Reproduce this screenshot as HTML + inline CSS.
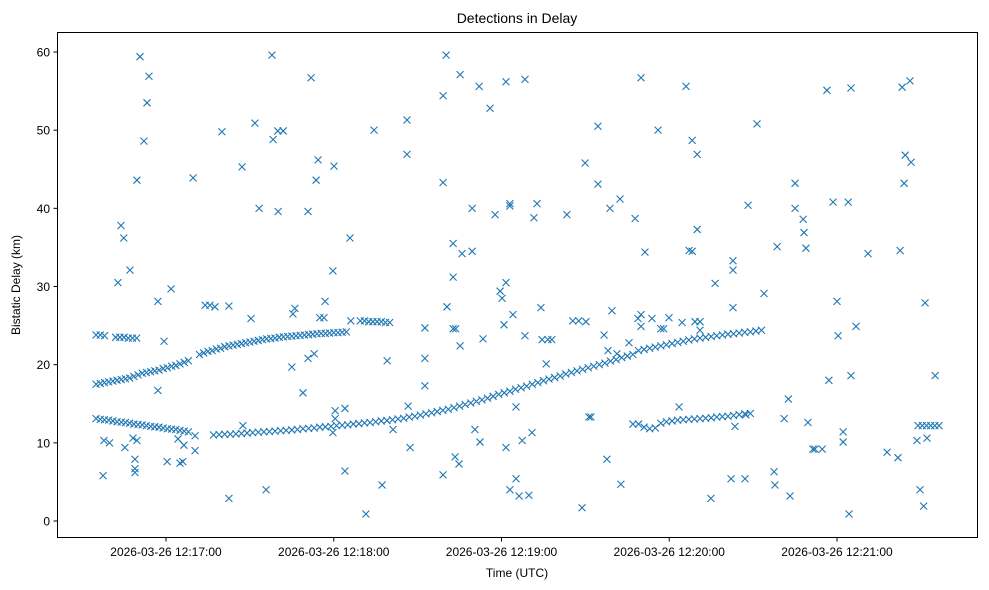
<!DOCTYPE html>
<html><head><meta charset="utf-8"><style>
body{margin:0;background:#fff;}
svg{display:block;font-family:"Liberation Sans","DejaVu Sans",sans-serif;}
</style></head><body>
<svg id="chart" width="989" height="590" viewBox="0 0 989 590">
<rect width="989" height="590" fill="#fff"/>
<text x="517" y="23" text-anchor="middle" font-size="14" fill="#000">Detections in Delay</text>
<g id="marks"></g>
<g id="axes"></g>
<rect x="57.5" y="32.5" width="920" height="505" fill="none" stroke="#000" stroke-width="1"/>
<text x="517" y="577" text-anchor="middle" font-size="12">Time (UTC)</text>
<text transform="translate(20,285) rotate(-90)" text-anchor="middle" font-size="12">Bistatic Delay (km)</text>
</svg>
<script>
// times are seconds since 2026-03-26 12:16:00 UTC
const xTickSeconds=[60,120,180,240,300];
const xTickLabels=["2026-03-26 12:17:00","2026-03-26 12:18:00","2026-03-26 12:19:00","2026-03-26 12:20:00","2026-03-26 12:21:00"];
const yTickValues=[0,10,20,30,40,50,60];
const yTickLabels=["0","10","20","30","40","50","60"];

const trackA1Times=[35,36.5,38,39.5,41,42.5,44,45.5,47,48.5,50,51.5,53,54.5,56,57.5,59,60.5,62,63.5,65,66.5,68];
const trackA1Km=[17.5,17.6,17.7,17.8,17.9,18.0,18.1,18.2,18.3,18.5,18.7,18.9,19.0,19.1,19.2,19.3,19.5,19.6,19.8,19.9,20.1,20.3,20.5];
const trackA0Times=[35,36.5,38,42,43.5,45,46.5,48,49.5];
const trackA0Km=[23.8,23.8,23.7,23.5,23.5,23.5,23.4,23.4,23.4];
const trackA2Times=[72,73.5,75,76.5,78,79.5,81,82.5,84,85.5,87,88.5,90,91.5,93,94.5,96,97.5,99,100.5,102,103.5,105,106.5,108,109.5,111,112.5,114,115.5,117,118.5,120,121.5,123,124.5];
const trackA2Km=[21.3,21.5,21.7,21.8,22.0,22.1,22.3,22.4,22.5,22.6,22.7,22.8,22.9,23.0,23.1,23.2,23.3,23.35,23.4,23.5,23.55,23.6,23.65,23.7,23.75,23.8,23.85,23.9,23.95,24.0,24.0,24.05,24.1,24.1,24.15,24.2];
const trackA3Times=[129.5,131,132.5,134,135.5,137,138.5,140];
const trackA3Km=[25.6,25.6,25.5,25.5,25.5,25.5,25.4,25.4];
const trackBTimes=[35,36.5,38,39.5,41,42.5,44,45.5,47,48.5,50,51.5,53,54.5,56,57.5,59,60.5,62,63.5,65,66.5,68];
const trackBKm=[13.1,13.0,12.95,12.9,12.8,12.7,12.65,12.6,12.5,12.4,12.35,12.3,12.2,12.1,12.05,12.0,11.9,11.8,11.75,11.7,11.6,11.5,11.4];
const trackCTimes=[77,79,81,83,85,87,89,91,93,95,97,99,101,103,105,107,109,111,113,115,117,119,121,123,125,127,129,131,133,135,137,139,141,143,145,147,149,151,153,155,157,159,161,163,165,167,169,171,173,175,177,179,181,183,185,187,189,191,193,195,197,199,201,203,205,207,209,211,213,215,217,219,221,223,225,227];
const trackCKm=[11.0,11.05,11.1,11.1,11.15,11.2,11.25,11.3,11.35,11.4,11.45,11.5,11.55,11.6,11.65,11.7,11.8,11.85,11.9,12.0,12.05,12.1,12.2,12.25,12.3,12.4,12.45,12.55,12.6,12.7,12.8,12.85,12.95,13.05,13.15,13.3,13.4,13.55,13.7,13.85,14.0,14.15,14.3,14.5,14.7,14.9,15.1,15.3,15.5,15.7,15.95,16.2,16.4,16.6,16.85,17.05,17.25,17.5,17.7,17.95,18.15,18.35,18.55,18.8,19.0,19.2,19.4,19.6,19.8,20.0,20.2,20.45,20.65,20.9,21.1,21.3];
const trackDTimes=[229,231,233,235,237,239,241,243,245,247,249,251,253,255,257,259,261,263,265,267,269,271,273];
const trackDKm=[21.8,21.95,22.1,22.25,22.4,22.55,22.7,22.85,23.0,23.15,23.3,23.4,23.5,23.6,23.7,23.8,23.9,23.95,24.05,24.15,24.2,24.3,24.4];
const trackETimes=[227,229,231,233,235,237,239,241,243,245,247,249,251,253,255,257,259,261,263,265,267,269];
const trackEKm=[12.4,12.4,12.0,11.8,11.9,12.5,12.7,12.8,12.9,12.95,13.0,13.05,13.1,13.15,13.2,13.3,13.35,13.4,13.5,13.6,13.7,13.75];
const trackFTimes=[329,330.5,332,333.5,335,336.5];
const trackFKm=[12.2,12.2,12.2,12.2,12.2,12.2];
const noiseTimes=[37.5,37.8,39.8,42.8,43.9,44.9,47.1,45.3,48.2,49.6,48.9,48.9,48.9,49.6,50.7,52.1,53.2,53.9,57.1,57.1,59.3,60.4,61.8,64.3,65.0,66.4,66.0,69.7,70.4,70.4,74.0,75.7,77.5,80.0,82.5,82.5,87.2,87.5,90.4,91.8,93.3,95.8,97.9,98.3,100.1,100,101.9,105,105.4,106.1,109,110.8,110.8,111.9,113,113.7,114.4,115,116.5,116.9,119.7,120.1,120.5,120.5,119.7,124,124,125.8,126.1,131.5,134.4,137.3,139.1,141.2,146.2,146.2,147.3,146.6,152.6,152.6,152.6,159.1,159.1,159.1,160.2,160.5,162.7,162.7,162.7,163.6,163.4,164.8,165.2,165.2,165.9,169.5,169.5,170.5,172.3,173.4,172,175.9,177.7,179.5,180.2,181.6,180.9,181.6,181.6,183,183,183,184.1,185.2,185.2,186.3,187.4,188.4,188.4,189.8,190.9,191.6,192.7,194.1,194.5,196.6,198,196,203.4,205.5,207.6,210.2,208.8,209.9,211.3,212,214.5,214.5,216.7,217.7,218.1,218.8,219.5,222.4,221.3,222.7,225.6,227.8,228.8,229.9,229.9,229.9,231.3,233.8,236,238,237,239.9,243.5,244.6,246,247.1,248.2,248.2,250,250,249.2,251,251,254.9,256.4,262.1,262.8,262.8,262.8,263.5,267.1,267.4,268.2,271.4,273.9,277.8,277.5,278.6,281.1,282.6,283.2,285,285,287.9,288.2,288.9,289.6,292.1,294.7,291.4,296.4,297.1,298.6,300,300.4,302.2,302.2,304,304.3,305,305,306.8,311.1,317.9,321.8,322.6,323.3,324,324.4,326.1,326.5,328.6,329.7,331.5,332.2,335.1,331];
const noiseKm=[5.8,10.3,10.0,30.5,37.8,36.2,32.1,9.4,10.6,10.3,7.9,6.7,6.2,43.6,59.4,48.6,53.5,56.9,16.7,28.1,23.0,7.6,29.7,10.5,7.4,9.7,7.6,43.9,9.0,10.9,27.6,27.6,27.4,49.8,27.5,2.9,45.3,12.2,25.9,50.9,40.0,4.0,59.6,48.8,39.6,49.9,49.9,19.7,26.5,27.2,16.4,20.8,39.6,56.7,21.4,43.6,46.2,26.0,26.0,28.1,32.0,45.4,13.1,14.1,11.3,6.4,14.4,36.2,25.6,0.9,50.0,4.6,20.5,11.7,51.3,46.9,9.4,14.7,20.8,24.7,17.3,5.9,54.4,43.3,59.6,27.4,35.5,31.2,24.6,24.6,8.2,7.3,57.1,22.4,34.2,34.5,40.0,11.7,10.1,23.3,55.6,52.8,39.2,29.4,28.5,30.5,25.1,9.4,56.2,4.0,40.6,40.3,26.4,5.4,14.6,3.2,10.3,56.5,23.7,3.3,11.3,38.8,40.6,27.3,23.2,23.2,23.2,20.1,39.2,25.6,25.6,25.5,1.7,45.8,13.3,13.3,50.5,43.1,23.8,7.9,21.8,40.0,26.9,41.2,21.4,4.7,22.8,38.7,25.9,24.9,26.4,56.7,34.4,25.9,50.0,24.6,24.6,26.0,14.6,25.4,55.6,34.6,34.5,48.7,46.9,37.3,25.5,25.5,24.4,2.9,30.4,5.4,33.3,32.1,27.3,12.1,5.4,13.6,40.4,50.8,29.1,4.6,6.3,35.1,13.1,15.6,3.2,43.2,40.0,38.6,36.9,34.9,12.6,9.2,9.2,9.2,55.1,18.0,40.8,28.1,23.7,11.4,10.1,40.8,0.9,18.6,55.4,24.9,34.2,8.8,8.1,34.6,55.5,43.2,46.8,56.3,45.9,10.3,4.0,27.9,10.6,18.6,1.9,11.7];

const SVGNS="http://www.w3.org/2000/svg";
function xScale(t){return 166+(t-60)*(167.75/60);}
function yScale(km){return 521-km*(469/60);}
const marks=document.getElementById('marks');
const axes=document.getElementById('axes');
function addSeries(times,kms,name){
  const g=document.createElementNS(SVGNS,'g');
  
  
  for(let i=0;i<times.length;i++){
    const x=xScale(times[i]),y=yScale(kms[i]),s=3.5;
    const p=document.createElementNS(SVGNS,'path');
    p.setAttribute('d','M'+(x-s)+' '+(y-s)+'L'+(x+s)+' '+(y+s)+'M'+(x-s)+' '+(y+s)+'L'+(x+s)+' '+(y-s));
    p.setAttribute('stroke','#1f77b4');
    p.setAttribute('stroke-width','1.1');
    
    
    g.appendChild(p);
  }
  marks.appendChild(g);
}
addSeries(trackA1Times,trackA1Km,'track-a1');
addSeries(trackA0Times,trackA0Km,'track-a0');
addSeries(trackA2Times,trackA2Km,'track-a2');
addSeries(trackA3Times,trackA3Km,'track-a3');
addSeries(trackBTimes,trackBKm,'track-b');
addSeries(trackCTimes,trackCKm,'track-c');
addSeries(trackDTimes,trackDKm,'track-d');
addSeries(trackETimes,trackEKm,'track-e');
addSeries(trackFTimes,trackFKm,'track-f');
addSeries(noiseTimes,noiseKm,'noise-detections');

xTickSeconds.forEach((t,i)=>{
  const x=xScale(t);
  const l=document.createElementNS(SVGNS,'line');
  l.setAttribute('x1',x);l.setAttribute('x2',x);l.setAttribute('y1',537.5);l.setAttribute('y2',541.5);
  l.setAttribute('stroke','#000');
  
  
  axes.appendChild(l);
  const tx=document.createElementNS(SVGNS,'text');
  tx.setAttribute('x',x);tx.setAttribute('y',556);tx.setAttribute('text-anchor','middle');tx.setAttribute('font-size','12');
  tx.textContent=xTickLabels[i];
  
  
  axes.appendChild(tx);
});
yTickValues.forEach((v,i)=>{
  const y=yScale(v);
  const l=document.createElementNS(SVGNS,'line');
  l.setAttribute('x1',53.5);l.setAttribute('x2',57.5);l.setAttribute('y1',y);l.setAttribute('y2',y);
  l.setAttribute('stroke','#000');
  
  
  axes.appendChild(l);
  const tx=document.createElementNS(SVGNS,'text');
  tx.setAttribute('x',50);tx.setAttribute('y',y+4.5);tx.setAttribute('text-anchor','end');tx.setAttribute('font-size','12');
  tx.textContent=yTickLabels[i];
  
  
  axes.appendChild(tx);
});
</script>
</body></html>
